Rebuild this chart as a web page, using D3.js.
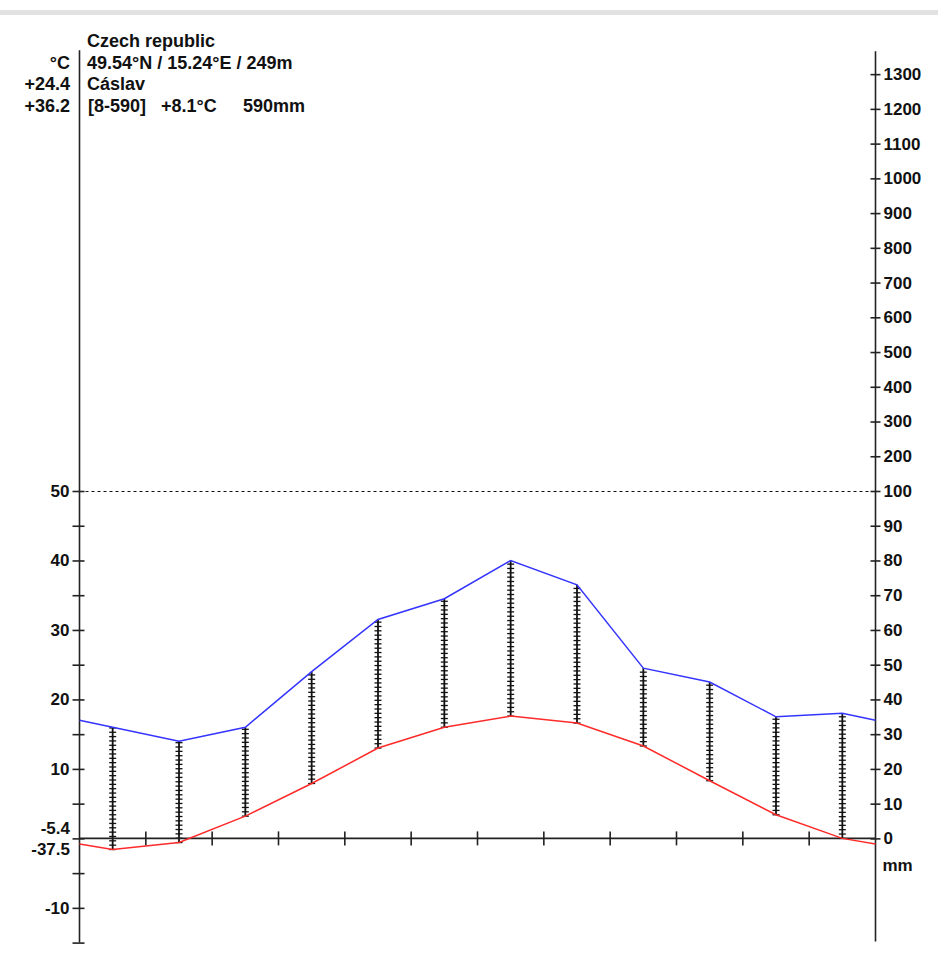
<!DOCTYPE html>
<html>
<head>
<meta charset="utf-8">
<title>Climate diagram - Cáslav</title>
<script src="https://cdnjs.cloudflare.com/ajax/libs/d3/7.8.5/d3.min.js"></script>
<style>
    body { margin: 0; background: #fff; }
    svg text { font-family: "Liberation Sans", Arial, sans-serif; font-weight: bold; font-size: 17px; fill: #111; }
    svg text.head { font-size: 18px; }
    .axis path, .axis line { stroke: #222; stroke-width: 1.6; }
</style>
</head>
<body>
<svg width="938" height="976"></svg>
<script>
    // monthly means, Jan..Dec
    const months = ["Jan", "Feb", "Mar", "Apr", "May", "Jun", "Jul", "Aug", "Sep", "Oct", "Nov", "Dec"];
    const temperature = [-1.6, -0.6, 3.2, 7.9, 13.0, 16.0, 17.6, 16.6, 13.3, 8.3, 3.4, 0.0];
    const precipitation = [32, 28, 32, 48, 63, 69, 80, 73, 49, 45, 35, 36];

    const headerLines = ["Czech republic", "49.54°N / 15.24°E / 249m", "Cáslav"];
    const sideLabels = ["°C", "+24.4", "+36.2"];
    const summaryTexts = ["[8-590]", "+8.1°C", "590mm"];
    const minLabels = ["-5.4", "-37.5"];

    const tempTicks = d3.range(-15, 51, 5);
    const tempLabels = [-10, 10, 20, 30, 40, 50];
    const rainTicks = d3.range(0, 101, 10).concat(d3.range(200, 1301, 100));

    const svg = d3.select('svg');

    // light grey band at the very top
    svg.append('rect').attr('x', 0).attr('y', 10).attr('width', 938).attr('height', 5).attr('fill', '#e2e2e2');

    const x = d3.scaleLinear().domain([0, 12]).range([79.5, 875.5]);
    const yT = d3.scaleLinear().domain([-15, 50]).range([942.6, 491]);
    // 10 mm = 5 degC up to 100 mm, then compressed by a factor 10
    const step = yT(0) - yT(5);
    const yP = d3.scaleLinear().domain([0, 100, 1300]).range([yT(0), yT(50), yT(50) - 12 * step]);

    const edgeT = (temperature[0] + temperature[11]) / 2;
    const edgeP = (precipitation[0] + precipitation[11]) / 2;
    const tempPts = [[0, edgeT]].concat(temperature.map((t, i) => [i + 0.5, t]), [[12, edgeT]]);
    const rainPts = [[0, edgeP]].concat(precipitation.map((p, i) => [i + 0.5, p]), [[12, edgeP]]);

    // humid hatching: vertical ladders at the month centres
    const hatchG = svg.append('g');
    months.forEach((m, i) => {
        const t = temperature[i], pT = precipitation[i] / 2;
        if (pT <= t) return;
        const cx = x(i + 0.5);
        hatchG.append('line')
            .attr('x1', cx).attr('x2', cx)
            .attr('y1', yT(t)).attr('y2', yP(precipitation[i]))
            .attr('stroke', '#111').attr('stroke-width', 1.8);
        hatchG.selectAll(null)
            .data(d3.range(t, pT, 0.625))
            .join('line')
            .attr('x1', cx - 3.5).attr('x2', cx + 3.5)
            .attr('y1', d => yT(d)).attr('y2', d => yT(d))
            .attr('stroke', '#111').attr('stroke-width', 1.3);
    });

    // 50 degC / 100 mm dashed line
    svg.append('line')
        .attr('x1', x(0)).attr('x2', x(12))
        .attr('y1', yT(50) + 0.5).attr('y2', yT(50) + 0.5)
        .attr('stroke', '#111').attr('stroke-width', 1)
        .attr('stroke-dasharray', '3,3');

    // zero line with month boundary ticks
    svg.append('line')
        .attr('x1', x(0)).attr('x2', x(12))
        .attr('y1', yT(0)).attr('y2', yT(0))
        .attr('stroke', '#222').attr('stroke-width', 1.6);
    svg.append('g').selectAll('line')
        .data(d3.range(1, 12))
        .join('line')
        .attr('x1', d => x(d)).attr('x2', d => x(d))
        .attr('y1', yT(0) - 7).attr('y2', yT(0) + 7)
        .attr('stroke', '#222').attr('stroke-width', 1.6);

    // left temperature axis
    const leftAxis = svg.append('g')
        .attr('class', 'axis')
        .attr('transform', `translate(${x(0)},0)`)
        .call(d3.axisLeft(yT)
            .tickValues(tempTicks)
            .tickSize(7).tickSizeOuter(0).tickPadding(3)
            .tickFormat(d => tempLabels.includes(d) ? d : ''));
    leftAxis.select('.domain').remove();
    leftAxis.selectAll('.tick line').attr('x2', -7).attr('x1', 5);
    leftAxis.append('line')
        .attr('x1', 0).attr('x2', 0)
        .attr('y1', yP(1300) - 24).attr('y2', yT(-15))
        .attr('stroke', '#222').attr('stroke-width', 1.6);

    // right precipitation axis
    const rightAxis = svg.append('g')
        .attr('class', 'axis')
        .attr('transform', `translate(${x(12)},0)`)
        .call(d3.axisRight(yP)
            .tickValues(rainTicks)
            .tickSize(5).tickSizeOuter(0).tickPadding(3)
            .tickFormat(d3.format('d')));
    rightAxis.select('.domain').remove();
    rightAxis.selectAll('.tick line').attr('x1', -5);
    rightAxis.append('line')
        .attr('x1', 0).attr('x2', 0)
        .attr('y1', yP(1300) - 23).attr('y2', yT(-15) - 1)
        .attr('stroke', '#222').attr('stroke-width', 1.6);
    svg.selectAll('.axis text').attr('fill', '#111').style('font-size', '17px');

    svg.append('text')
        .attr('x', x(12) + 7).attr('y', yT(0) + 33)
        .text('mm');

    // temperature and precipitation curves
    svg.append('path')
        .datum(tempPts)
        .attr('fill', 'none').attr('stroke', '#ff2a2a').attr('stroke-width', 1.5)
        .attr('d', d3.line().x(d => x(d[0])).y(d => yT(d[1])));
    svg.append('path')
        .datum(rainPts)
        .attr('fill', 'none').attr('stroke', '#3434ff').attr('stroke-width', 1.5)
        .attr('d', d3.line().x(d => x(d[0])).y(d => yP(d[1])));

    // extreme minima beside the zero line
    svg.append('text').attr('x', 70).attr('y', yT(0) - 4).attr('text-anchor', 'end').text(minLabels[0]);
    svg.append('text').attr('x', 70).attr('y', yT(0) + 17).attr('text-anchor', 'end').text(minLabels[1]);

    // header block
    headerLines.forEach((t, i) => {
        svg.append('text').attr('class', 'head').attr('x', 87).attr('y', 47 + i * 21.5).text(t);
    });
    sideLabels.forEach((t, i) => {
        svg.append('text').attr('class', 'head').attr('x', 70).attr('y', 68.5 + i * 21.5).attr('text-anchor', 'end').text(t);
    });
    const summaryX = [88, 161, 243];
    summaryTexts.forEach((t, i) => {
        svg.append('text').attr('class', 'head').attr('x', summaryX[i]).attr('y', 111.5).text(t);
    });
</script>
</body>
</html>
